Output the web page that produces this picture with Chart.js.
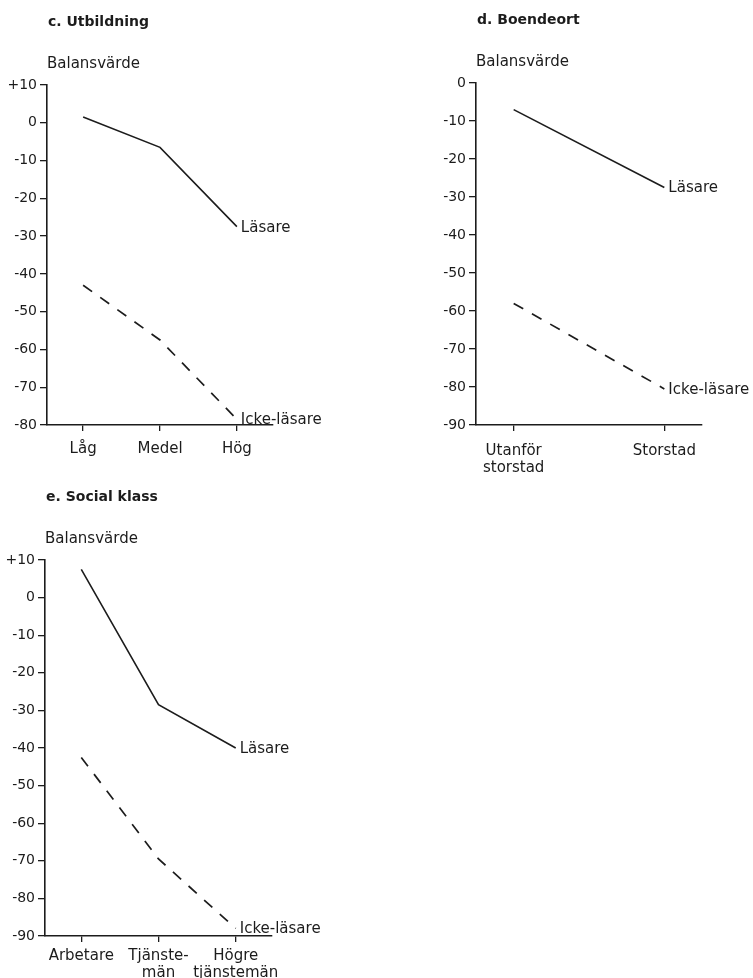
<!DOCTYPE html>
<html lang="sv">
<head>
<meta charset="utf-8">
<title>Balansvärde</title>
<script src="https://cdn.jsdelivr.net/npm/chart.js@4/dist/chart.umd.min.js"></script>
<style>
  body { margin: 0; background: #fff; }
  #wrap { position: relative; width: 753px; height: 978px; overflow: hidden; }
  canvas { position: absolute; }
</style>
</head>
<body>
<div id="wrap">
  <canvas id="chartC" width="380" height="475" style="left:0px;top:0px"></canvas>
  <canvas id="chartD" width="353" height="475" style="left:400px;top:0px"></canvas>
  <canvas id="chartE" width="380" height="498" style="left:0px;top:480px"></canvas>
</div>
<script>
//c. Utbildning
const utbildningKat = ["Låg", "Medel", "Hög"];
const utbildningLasare = [1.5, -6.5, -27.5];
const utbildningIcke = [-43, -57.5, -78.5];
const utbildningTicks = [10, 0, -10, -20, -30, -40, -50, -60, -70, -80];

//d. Boendeort
const boendeKat = [["Utanför", "storstad"], "Storstad"];
const boendeLasare = [-7, -27.5];
const boendeIcke = [-58, -80.5];
const boendeTicks = [0, -10, -20, -30, -40, -50, -60, -70, -80, -90];

//e. Social klass
const klassKat = ["Arbetare", ["Tjänste-", "män"], ["Högre", "tjänstemän"]];
const klassLasare = [7.5, -28.5, -40];
const klassIcke = [-42.5, -69.5, -88];
const klassTicks = [10, 0, -10, -20, -30, -40, -50, -60, -70, -80, -90];

const farg = "#1c1c1c";
const typsnitt = "'DejaVu Sans', sans-serif";

//Skriver rubrik, axeltitel och namnen vid linjernas slut
const etiketter = {
  id: "etiketter",
  afterDatasetsDraw(chart, args, opts) {
    const c = chart.ctx;
    const a = chart.chartArea;
    c.save();
    c.fillStyle = farg;
    c.textBaseline = "middle";
    c.textAlign = "left";
    c.font = "15px " + typsnitt;
    chart.data.datasets.forEach(function (ds, i) {
      const pts = chart.getDatasetMeta(i).data;
      const p = pts[pts.length - 1];
      c.fillText(ds.label, p.x + 4, p.y + 1);
    });
    c.fillText("Balansvärde", a.left, a.top - 21);
    c.font = "bold 14px " + typsnitt;
    c.fillText(opts.rubrik, a.left + 1, a.top - 63);
    c.restore();
  }
};

function punkter(values) {
  return values.map(function (v, i) { return { x: i, y: v }; });
}

function skapaDiagram(id, rubrik, kategorier, lasare, icke, yTicks, lage) {
  const ctx = document.getElementById(id).getContext("2d");
  return new Chart(ctx, {
    type: "line",
    data: {
      datasets: [
        {
          label: "Läsare",
          data: punkter(lasare),
          borderColor: farg,
          borderWidth: 1.6,
          pointRadius: 0,
          tension: 0,
          fill: false
        },
        {
          label: "Icke-läsare",
          data: punkter(icke),
          borderColor: farg,
          borderWidth: 1.7,
          borderDash: [11, 10],
          pointRadius: 0,
          tension: 0,
          fill: false
        }
      ]
    },
    options: {
      responsive: false,
      animation: false,
      events: [],
      layout: { padding: { top: lage.top, right: lage.right, left: 0, bottom: 0 } },
      plugins: {
        legend: { display: false },
        tooltip: { enabled: false },
        etiketter: { rubrik: rubrik }
      },
      scales: {
        x: {
          type: "linear",
          min: -lage.pad,
          max: kategorier.length - 1 + lage.pad,
          afterBuildTicks: function (s) {
            s.ticks = kategorier.map(function (k, i) { return { value: i }; });
          },
          afterFit: function (s) { s.height = lage.xHeight; },
          ticks: {
            autoSkip: false,
            maxRotation: 0,
            padding: lage.xPad,
            color: farg,
            font: { family: typsnitt, size: 15, lineHeight: 1.1 },
            callback: function (v) { return kategorier[v]; }
          },
          grid: { drawOnChartArea: false, drawTicks: true, tickLength: 6, color: farg, lineWidth: 1.3 },
          border: { display: true, color: farg, width: 1.6 }
        },
        y: {
          min: yTicks[yTicks.length - 1],
          max: yTicks[0],
          afterBuildTicks: function (s) {
            s.ticks = yTicks.map(function (v) { return { value: v }; });
          },
          afterFit: function (s) { s.width = lage.yWidth; },
          ticks: {
            padding: 3,
            color: farg,
            font: { family: typsnitt, size: 14 },
            callback: function (v) { return v > 0 ? "+" + v : String(v); }
          },
          grid: { drawOnChartArea: false, drawTicks: true, tickLength: 7, color: farg, lineWidth: 1.3 },
          border: { display: true, color: farg, width: 1.6 }
        }
      }
    },
    plugins: [etiketter]
  });
}

skapaDiagram("chartC", "c. Utbildning", utbildningKat, utbildningLasare, utbildningIcke, utbildningTicks,
  { top: 85, right: 107, yWidth: 47, xHeight: 50, pad: 0.47, xPad: 10 });
skapaDiagram("chartD", "d. Boendeort", boendeKat, boendeLasare, boendeIcke, boendeTicks,
  { top: 83, right: 51, yWidth: 76, xHeight: 50, pad: 0.25, xPad: 12 });
skapaDiagram("chartE", "e. Social klass", klassKat, klassLasare, klassIcke, klassTicks,
  { top: 80, right: 108, yWidth: 45, xHeight: 42, pad: 0.47, xPad: 6 });
</script>
</body>
</html>
